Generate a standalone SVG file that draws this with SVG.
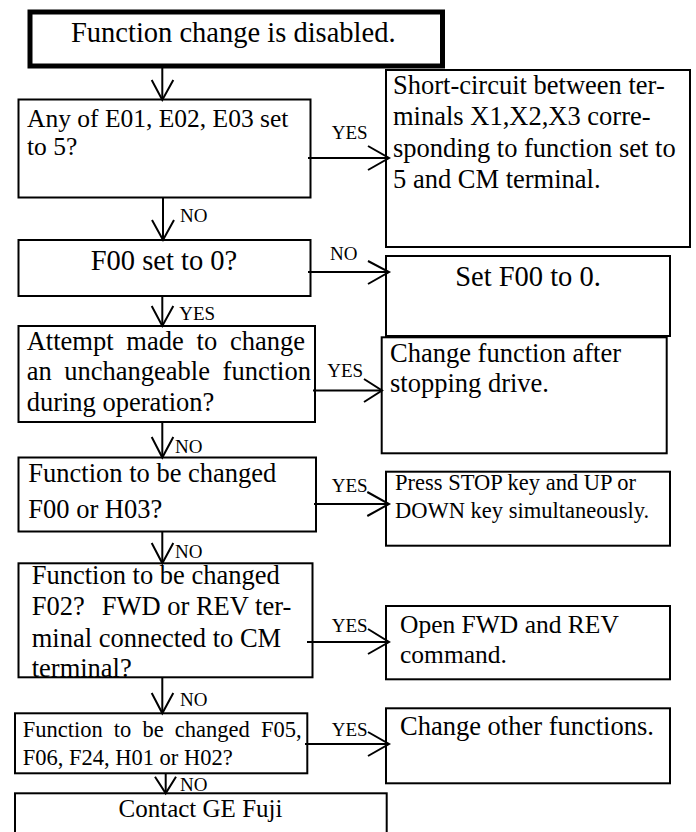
<svg xmlns="http://www.w3.org/2000/svg" width="696" height="832" viewBox="0 0 696 832">
<defs>
<style>
.box{fill:none;stroke:#000;stroke-width:2}
.title{fill:none;stroke:#000;stroke-width:5}
text{font-family:"Liberation Serif","Times New Roman",serif;fill:#000}
.l{font-size:28.5px}
.m{font-size:26.5px}
.s{font-size:22.5px}
.lab{font-size:19px}
.c line,.c polyline{stroke:#000;stroke-width:2;fill:none}
</style>
<clipPath id="clip5"><rect x="18" y="563" width="295" height="114"/></clipPath>
</defs>
<rect width="696" height="832" fill="#fff"/>

<g id="start">
<rect class="title" x="30" y="12" width="412.5" height="54"/>
<text class="l" x="71" y="42">Function change is disabled.</text>
</g>

<g id="q1">
<rect class="box" x="18.5" y="99.5" width="292" height="98"/>
<text class="m" x="27" y="127" style="font-size:25.5px">Any of E01, E02, E03 set</text>
<text class="m" x="27" y="155" style="font-size:25.5px">to 5?</text>
</g>

<g id="a1">
<rect class="box" x="386" y="70" width="304" height="177"/>
<text class="m" x="393" y="93.5">Short-circuit between ter-</text>
<text class="m" x="393" y="125">minals X1,X2,X3 corre-</text>
<text class="m" x="393" y="156.5">sponding to function set to</text>
<text class="m" x="393" y="187.5">5 and CM terminal.</text>
</g>

<g id="q2">
<rect class="box" x="18.5" y="240" width="292" height="56"/>
<text class="l" x="164" y="270" text-anchor="middle">F00 set to 0?</text>
</g>

<g id="a2">
<rect class="box" x="386" y="256" width="284" height="80"/>
<text class="l" x="528" y="286" text-anchor="middle">Set F00 to 0.</text>
</g>

<g id="q3">
<rect class="box" x="18.5" y="326" width="296.5" height="96"/>
<text class="m" x="26.7" y="350" word-spacing="6.2">Attempt made to change</text>
<text class="m" x="26.7" y="380" word-spacing="6">an unchangeable function</text>
<text class="m" x="26.7" y="411">during operation?</text>
</g>

<g id="a3">
<rect class="box" x="381.7" y="337.3" width="285" height="116"/>
<text class="m" x="390" y="361.7">Change function after</text>
<text class="m" x="390" y="391.7">stopping drive.</text>
</g>

<g id="q4">
<rect class="box" x="18.5" y="457.5" width="297.5" height="74"/>
<text class="m" x="28.3" y="481.7">Function to be changed</text>
<text class="m" x="28.3" y="518">F00 or H03?</text>
</g>

<g id="a4">
<rect class="box" x="386" y="471.7" width="284" height="74"/>
<text class="s" x="395" y="490">Press STOP key and UP or</text>
<text class="s" x="395" y="518.3">DOWN key simultaneously.</text>
</g>

<g id="q5">
<g clip-path="url(#clip5)">
<text class="m" x="31.7" y="584">Function to be changed</text>
<text class="m" x="31.7" y="615">F02?</text>
<text class="m" x="101.7" y="615">FWD or REV ter-</text>
<text class="m" x="31.7" y="646.5">minal connected to CM</text>
<text class="m" x="31.7" y="676.5">terminal?</text>
</g>
<rect class="box" x="18.5" y="563.3" width="294" height="114"/>
</g>

<g id="a5">
<rect class="box" x="386" y="606" width="284" height="73.3"/>
<text class="m" x="400" y="633.3" style="font-size:25.5px">Open FWD and REV</text>
<text class="m" x="400" y="663.3" style="font-size:25.5px">command.</text>
</g>

<g id="q6">
<rect class="box" x="15" y="713.3" width="292.3" height="60"/>
<text class="s" x="22.7" y="736.7" word-spacing="5.5">Function to be changed F05,</text>
<text class="s" x="22.7" y="765">F06, F24, H01 or H02?</text>
</g>

<g id="a6">
<rect class="box" x="386" y="708.3" width="284" height="75"/>
<text class="m" x="400" y="735">Change other functions.</text>
</g>

<g id="end">
<rect class="box" x="15" y="793.3" width="371.7" height="60"/>
<text class="m" x="200.5" y="817" text-anchor="middle" style="font-size:25px">Contact GE Fuji</text>
</g>

<g id="connectors" class="c">
<line x1="162.3" y1="68" x2="162.3" y2="100"/>
<polyline points="151.7,80 162.3,100 173.3,80"/>

<line x1="308" y1="158" x2="389" y2="158"/>
<polyline points="368,146 389,158 368,170"/>

<line x1="163" y1="197.7" x2="163" y2="240"/>
<polyline points="152,220 163,240 174,220"/>

<line x1="308" y1="272" x2="389" y2="272"/>
<polyline points="368,261 389,272 368,284"/>

<line x1="162.3" y1="296" x2="162.3" y2="326"/>
<polyline points="151.7,306 162.3,326 173.3,306"/>

<line x1="313" y1="390.5" x2="382" y2="390.5"/>
<polyline points="364,379 382,390.5 364,402"/>

<line x1="162.3" y1="422" x2="162.3" y2="457.5"/>
<polyline points="151.7,437 162.3,457.5 173.3,437"/>

<line x1="314" y1="504" x2="389" y2="504"/>
<polyline points="367.3,492 389,504 367.3,516"/>

<line x1="162.3" y1="531.7" x2="162.3" y2="563.3"/>
<polyline points="151.7,543 162.3,563.3 173.3,543"/>

<line x1="307" y1="642" x2="389" y2="642"/>
<polyline points="368,629 389,642 368,654"/>

<line x1="162.3" y1="677.3" x2="162.3" y2="713.3"/>
<polyline points="151.7,693 162.3,713.3 173.3,693"/>

<line x1="305" y1="744" x2="389" y2="744"/>
<polyline points="368,732 389,744 368,756"/>

<line x1="165.7" y1="773.3" x2="165.7" y2="793.3"/>
<polyline points="155,776.7 165.7,793.3 176,776.7"/>
</g>

<g id="labels">
<text class="lab" x="331.7" y="139">YES</text>
<text class="lab" x="180" y="221.7">NO</text>
<text class="lab" x="330" y="260">NO</text>
<text class="lab" x="179.3" y="320">YES</text>
<text class="lab" x="327.3" y="376.7">YES</text>
<text class="lab" x="175" y="453">NO</text>
<text class="lab" x="331.7" y="491.7">YES</text>
<text class="lab" x="175" y="558">NO</text>
<text class="lab" x="331.7" y="631.7">YES</text>
<text class="lab" x="180" y="706">NO</text>
<text class="lab" x="331.7" y="736">YES</text>
<text class="lab" x="180" y="790.7">NO</text>
</g>
</svg>
